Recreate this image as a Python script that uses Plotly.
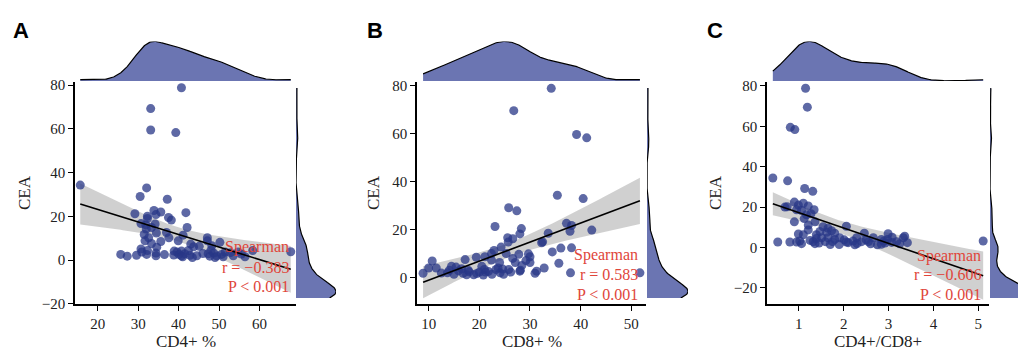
import numpy as np
import plotly.graph_objects as go

# ---------------- data ----------------
cd4 = [40.7, 33.1, 33.1, 39.3, 15.7, 32.1, 30.5, 37.2, 29.2, 33.9, 35.6, 41.8, 32.3, 32.3, 34.4,
       37.5, 38.2, 42.1, 30.7, 31.9, 34.2, 32.0, 33.3, 31.5, 34.5, 37.0, 37.6, 41.1, 31.7, 33.3,
       35.6, 39.9, 47.1, 47.1, 50.2, 43.0, 43.7, 45.1, 30.7, 32.3, 34.6, 42.4, 25.7, 27.3, 29.6,
       32.1, 34.4, 34.4, 30.9, 38.8, 39.6, 40.1, 40.7, 41.5, 38.9, 43.4, 47.3, 47.7, 48.7, 49.4,
       50.6, 51.0, 52.8, 56.4, 58.3, 67.7, 40.7, 42.8, 32.6, 48.2, 51.5, 54.7,
       44.5, 46.0, 49.0, 53.5, 36.5, 41.0, 48.0, 55.5]
cea_a = [78.8, 69.3, 59.5, 58.3, 34.3, 33.0, 29.1, 27.8, 21.2, 22.7, 22.0, 21.7, 20.1, 19.0, 20.8,
         19.5, 18.3, 14.9, 16.7, 16.1, 16.5, 14.2, 14.9, 11.7, 12.4, 12.6, 10.2, 11.4, 8.8, 7.6,
         8.5, 8.8, 10.2, 8.8, 8.1, 7.3, 6.1, 6.3, 5.1, 4.4, 5.9, 4.4, 2.6, 1.8, 2.2,
         2.6, 2.0, 3.2, 3.7, 2.3, 3.7, 2.6, 1.9, 2.9, 4.1, 1.2, 2.9, 1.8, 3.2, 1.9,
         2.6, 1.5, 3.4, 1.5, 4.4, 3.8, 4.1, 2.2, 10.2, 6.6, 3.7, 3.7,
         2.0, 3.0, 1.2, 2.0, 2.5, 1.5, 4.5, 2.8]

cd8 = [34.2, 26.8, 39.2, 41.2, 35.4, 40.5, 25.8, 27.4, 23.1, 28.3, 28.0, 37.2, 37.9, 38.2, 42.2,
       33.6, 25.6, 26.6, 25.7, 32.5, 32.3, 38.2, 36.1, 34.4, 22.9, 24.3, 22.4, 21.1, 19.4, 25.3,
       29.7, 27.8, 29.2, 30.0, 26.6, 27.1, 24.0, 22.4, 17.2, 10.7, 10.0, 11.5, 8.9, 14.1, 15.4,
       15.9, 16.8, 17.5, 18.9, 17.8, 20.5, 21.0, 21.2, 21.8, 23.3, 23.7, 24.1, 24.6, 25.8, 26.2,
       28.0, 28.4, 31.0, 31.3, 32.8, 35.7, 38.0, 51.7, 14.5, 13.7, 20.0, 28.1, 30.0,
       12.5, 15.0, 18.0, 19.5, 22.5, 16.5, 20.8, 24.8]
cea_b = [78.9, 69.6, 59.7, 58.3, 34.4, 33.0, 29.2, 27.9, 21.4, 20.5, 18.3, 22.7, 19.4, 21.8, 19.9,
         18.6, 16.7, 16.3, 14.9, 15.0, 14.6, 12.5, 12.4, 10.8, 11.4, 12.8, 10.1, 8.8, 8.6, 10.1,
         10.0, 9.8, 7.2, 6.4, 8.1, 6.4, 6.4, 7.4, 7.6, 7.0, 4.1, 4.1, 1.9, 3.2, 4.5,
         2.9, 1.9, 1.3, 1.3, 3.2, 4.8, 3.5, 2.4, 2.7, 3.5, 4.1, 2.1, 3.7, 3.5, 2.4,
         2.8, 5.2, 1.9, 2.8, 4.1, 6.1, 2.1, 2.1, 4.8, 2.1, 2.4, 3.2, 8.8,
         2.0, 1.5, 2.5, 1.8, 1.5, 3.8, 1.2, 1.5]

ratio = [1.15, 1.19, 0.81, 0.91, 0.42, 0.75, 1.13, 1.31, 0.74, 0.90, 0.99, 1.10, 1.21, 0.95, 1.06,
         1.34, 1.17, 1.27, 0.90, 1.36, 1.12, 1.21, 1.54, 1.65, 1.80, 2.06, 1.21, 1.47, 1.62, 1.73,
         0.99, 1.10, 1.39, 1.51, 1.65, 1.80, 1.25, 1.32, 1.36, 0.53, 0.80, 0.95, 1.06, 1.02, 1.59,
         1.75, 2.01, 2.06, 2.21, 2.25, 2.29, 2.40, 2.46, 2.55, 2.66, 2.75, 2.84, 2.99, 2.98, 3.08,
         3.18, 3.33, 3.36, 3.42, 5.11, 2.84, 2.92, 3.07, 2.10, 1.91, 1.39, 0.69,
         1.45, 1.70, 2.30, 2.60, 2.90, 3.25, 1.90, 2.50]
cea_c = [78.9, 69.5, 59.5, 58.4, 34.4, 33.0, 29.2, 27.8, 20.2, 22.5, 21.0, 21.9, 20.6, 18.7, 18.3,
         18.7, 16.2, 16.7, 12.7, 12.7, 14.3, 11.1, 10.3, 9.5, 7.1, 10.5, 8.7, 7.9, 7.5, 8.3,
         6.7, 6.3, 6.3, 4.8, 4.8, 4.0, 3.5, 2.9, 1.9, 2.7, 2.7, 2.7, 1.9, 3.2, 2.9,
         2.9, 3.8, 2.7, 3.2, 1.3, 4.8, 2.9, 7.1, 2.9, 4.8, 1.3, 4.0, 6.8, 4.0, 5.1,
         2.9, 4.8, 5.6, 2.4, 3.2, 1.6, 2.2, 2.5, 2.4, 4.8, 4.4, 20.0,
         2.2, 1.5, 2.0, 1.8, 3.2, 1.8, 1.5, 3.8]

panel_letters = ["A", "B", "C"]
x_titles = ["CD4+ %", "CD8+ %", "CD4+/CD8+"]
y_title = "CEA"
stat_name = "Spearman"
r_texts = ["r = \u22120.383", "r = 0.583", "r = \u22120.606"]
p_texts = ["P < 0.001", "P < 0.001", "P < 0.001"]

# ---------------- style / layout constants ----------------
W, H = 1026, 351
FILL = "#6B75B2"
PT = "rgba(40,55,135,0.75)"
RED = "#E0453A"
SERIF = "Liberation Serif"
T_CRIT = 1.99

panels = [
    dict(x=cd4, y=cea_a, xr=[14.4, 69.0], yr=[-20, 81.3], px=[67, 288], dx=10,
         marg=[288, 328], ytl=16, txt_r=283, txt_y=[243, 264, 284]),
    dict(x=cd8, y=cea_b, xr=[7.7, 52.9], yr=[-10.8, 81.4], px=[409, 638], dx=10,
         marg=[639, 680], ytl=365, txt_r=632, txt_y=[251, 272, 292]),
    dict(x=ratio, y=cea_c, xr=[0.29, 5.24], yr=[-27.9, 81.8], px=[759, 981], dx=1,
         marg=[982, 1021], ytl=707, txt_r=975, txt_y=[252, 272, 292]),
]
letter_x = [3, 357, 697]
MAIN_Y = [72, 302]
TOP_Y = [29.5, 70.5]
RIGHT_Y = [78, 296]


def fx(px):
    return px / W


def fy(py):
    return 1 - py / H


def kde(data, grid):
    d = np.asarray(data, float)
    q75, q25 = np.percentile(d, [75, 25])
    bw = 0.9 * min(d.std(ddof=1), (q75 - q25) / 1.34) * len(d) ** (-1 / 5)
    z = (grid[:, None] - d[None, :]) / bw
    return np.exp(-0.5 * z ** 2).sum(axis=1) / (len(d) * bw * np.sqrt(2 * np.pi))


def key(prefix, j):
    return prefix + ("" if j == 1 else str(j))


fig = go.Figure()
layout = {}
annotations = []

for i, p in enumerate(panels):
    k = 3 * i + 1
    names = [("x" if j == 1 else f"x{j}", "y" if j == 1 else f"y{j}") for j in (k, k + 1, k + 2)]
    x = np.asarray(p["x"], float)
    y = np.asarray(p["y"], float)
    n = len(x)

    # regression + 95% CI
    b, a = np.polyfit(x, y, 1)
    grid = np.linspace(x.min(), x.max(), 100)
    yhat = a + b * grid
    resid = y - (a + b * x)
    s = np.sqrt((resid ** 2).sum() / (n - 2))
    se = s * np.sqrt(1 / n + (grid - x.mean()) ** 2 / ((x - x.mean()) ** 2).sum())
    lo, hi = yhat - T_CRIT * se, yhat + T_CRIT * se

    mx, my = names[0]
    fig.add_trace(go.Scatter(x=np.concatenate([grid, grid[::-1]]), y=np.concatenate([hi, lo[::-1]]),
                             fill="toself", fillcolor="rgba(150,150,150,0.45)", line=dict(width=0),
                             mode="lines", hoverinfo="skip", xaxis=mx, yaxis=my, showlegend=False))
    fig.add_trace(go.Scatter(x=x, y=y, mode="markers", marker=dict(size=9, color=PT, line=dict(width=0)),
                             xaxis=mx, yaxis=my, showlegend=False))
    fig.add_trace(go.Scatter(x=grid, y=yhat, mode="lines", line=dict(color="black", width=1.6),
                             xaxis=mx, yaxis=my, showlegend=False))

    # top marginal
    gx = np.linspace(x.min(), x.max(), 300)
    dx_ = kde(x, gx)
    tx, ty = names[1]
    fig.add_trace(go.Scatter(x=gx, y=dx_, mode="lines", fill="tozeroy", fillcolor=FILL,
                             line=dict(color="black", width=1.2), xaxis=tx, yaxis=ty, showlegend=False))
    # right marginal
    gy = np.linspace(y.min(), y.max(), 300)
    dy_ = kde(y, gy)
    rx, ry = names[2]
    fig.add_trace(go.Scatter(x=dy_, y=gy, mode="lines", fill="tozerox", fillcolor=FILL,
                             line=dict(color="black", width=1.2), xaxis=rx, yaxis=ry, showlegend=False))

    tickfont = dict(family=SERIF, size=15, color="#222")
    layout[key("xaxis", k)] = dict(domain=[fx(p["px"][0]), fx(p["px"][1])], range=p["xr"],
                                   anchor=my, showline=True, linecolor="black", linewidth=1.6,
                                   ticks="outside", ticklen=5, tickwidth=1.2, tickcolor="black",
                                   dtick=p["dx"], tick0=0, showgrid=False, zeroline=False,
                                   tickfont=tickfont)
    layout[key("yaxis", k)] = dict(domain=[fy(MAIN_Y[1]), fy(MAIN_Y[0])], range=p["yr"],
                                   anchor=mx, showline=True, linecolor="black", linewidth=1.6,
                                   ticks="outside", ticklen=5, tickwidth=1.2, tickcolor="black",
                                   dtick=20, tick0=0, showgrid=False, zeroline=False,
                                   tickfont=tickfont)
    layout[key("xaxis", k + 1)] = dict(domain=[fx(p["px"][0]), fx(p["px"][1])], range=p["xr"],
                                       anchor=ty, visible=False)
    layout[key("yaxis", k + 1)] = dict(domain=[fy(TOP_Y[1]), fy(TOP_Y[0])], range=[0, dx_.max()],
                                       anchor=tx, visible=False)
    layout[key("xaxis", k + 2)] = dict(domain=[fx(p["marg"][0]), fx(p["marg"][1])],
                                       range=[0, dy_.max()], anchor=ry, visible=False)
    layout[key("yaxis", k + 2)] = dict(domain=[fy(RIGHT_Y[1]), fy(RIGHT_Y[0])],
                                       range=[y.min(), y.max()], anchor=rx, visible=False)

    # titles and labels
    annotations.append(dict(text=x_titles[i], x=fx((p["px"][0] + p["px"][1]) / 2), y=fy(341),
                            xref="paper", yref="paper", showarrow=False, xanchor="center",
                            yanchor="middle", font=dict(family=SERIF, size=17, color="#222")))
    annotations.append(dict(text=y_title, x=fx(p["ytl"]), y=fy(187), xref="paper", yref="paper",
                            showarrow=False, textangle=-90, xanchor="center", yanchor="middle",
                            font=dict(family=SERIF, size=17, color="#222")))
    annotations.append(dict(text=f"<b>{panel_letters[i]}</b>", x=fx(letter_x[i]), y=fy(18),
                            xref="paper", yref="paper", showarrow=False, xanchor="left",
                            yanchor="middle", font=dict(family="Liberation Sans", size=22, color="black")))
    for t, yy in zip([stat_name, r_texts[i], p_texts[i]], p["txt_y"]):
        annotations.append(dict(text=t, x=fx(p["txt_r"]), y=fy(yy), xref="paper", yref="paper",
                                showarrow=False, xanchor="right", yanchor="middle",
                                font=dict(family=SERIF, size=16, color=RED)))

fig.update_layout(width=W, height=H, margin=dict(l=0, r=0, t=0, b=0), plot_bgcolor="white",
                  paper_bgcolor="white", showlegend=False, annotations=annotations, **layout)
fig.write_html("out.html")
